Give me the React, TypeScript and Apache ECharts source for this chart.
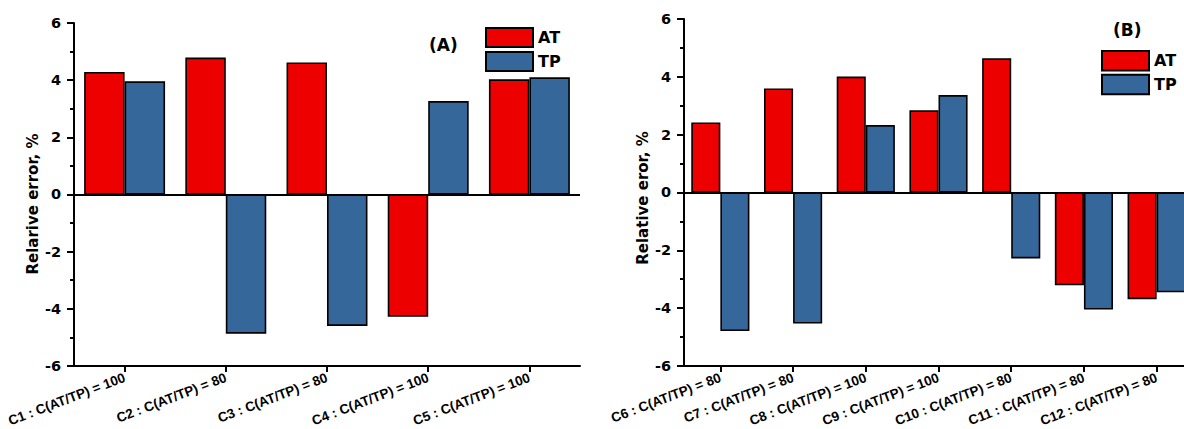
import React, { useEffect, useRef } from "react";
import * as echarts from "echarts";

const categoriesA = [
  "C1 : C(AT/TP) = 100",
  "C2 : C(AT/TP) = 80",
  "C3 : C(AT/TP) = 80",
  "C4 : C(AT/TP) = 100",
  "C5 : C(AT/TP) = 100",
];
const atA = [4.29, 4.79, 4.62, -4.28, 4.03];
const tpA = [3.96, -4.87, -4.6, 3.27, 4.1];

const categoriesB = [
  "C6 : C(AT/TP) = 80",
  "C7 : C(AT/TP) = 80",
  "C8 : C(AT/TP) = 100",
  "C9 : C(AT/TP) = 100",
  "C10 : C(AT/TP) = 80",
  "C11 : C(AT/TP) = 80",
  "C12 : C(AT/TP) = 80",
];
const atB = [2.42, 3.6, 4.01, 2.84, 4.64, -3.21, -3.69];
const tpB = [-4.79, -4.53, 2.33, 3.37, -2.28, -4.05, -3.45];

const yMin = -6;
const yMax = 6;
const yStep = 2;

const FONT = "DejaVu Sans";
const XFONT = "Liberation Sans";
const RED = "#ec0000";
const BLUE = "#35679a";

function xAxisFor(gridIndex: number, data: string[]) {
  return {
    type: "category",
    gridIndex,
    data,
    position: "bottom",
    axisLine: { onZero: false, lineStyle: { color: "#000", width: 2 } },
    axisTick: { show: true, alignWithLabel: true, length: 6, lineStyle: { color: "#000", width: 2 } },
    axisLabel: {
      interval: 0,
      rotate: 21,
      margin: 11,
      color: "#000",
      fontFamily: XFONT,
      fontWeight: "bold",
      fontSize: 13.5,
    },
    splitLine: { show: false },
  };
}

function yAxisFor(gridIndex: number, name: string, shift: number) {
  return {
    type: "value",
    gridIndex,
    min: yMin,
    max: yMax,
    interval: yStep,
    name,
    nameLocation: "middle",
    nameGap: 31,
    nameTextStyle: {
      color: "#000",
      fontFamily: FONT,
      fontWeight: "bold",
      fontSize: 15,
      padding: [0, shift, 0, 0],
    },
    axisLine: { show: true, lineStyle: { color: "#000", width: 2 } },
    axisTick: { show: true, length: 7, lineStyle: { color: "#000", width: 2 } },
    minorTick: { show: true, splitNumber: 2, length: 4, lineStyle: { color: "#000", width: 2 } },
    axisLabel: {
      margin: 13,
      color: "#000",
      fontFamily: FONT,
      fontWeight: "bold",
      fontSize: 14.5,
    },
    splitLine: { show: false },
  };
}

const zeroLine = {
  silent: true,
  symbol: "none",
  label: { show: false },
  lineStyle: { color: "#000", width: 2, type: "solid" },
  data: [{ yAxis: 0 }],
};

function barSeries(name: string, color: string, data: number[], idx: number, withZero: boolean) {
  return {
    type: "bar",
    name,
    xAxisIndex: idx,
    yAxisIndex: idx,
    data,
    barGap: "0%",
    barCategoryGap: "20%",
    itemStyle: { color, borderColor: "#000", borderWidth: 1.6 },
    ...(withZero ? { markLine: zeroLine } : {}),
  };
}

const legendBase = {
  data: ["AT", "TP"],
  orient: "vertical",
  icon: "rect",
  itemWidth: 47,
  padding: 0,
  selectedMode: false,
  textStyle: { color: "#000", fontFamily: FONT, fontWeight: "bold", fontSize: 16 },
};

export default function App() {
  const ref = useRef<HTMLDivElement>(null);
  useEffect(() => {
    if (!ref.current) return;
    const chart = echarts.init(ref.current, null, { renderer: "svg" });
    chart.setOption({
      animation: false,
      backgroundColor: "#fff",
      grid: [
        { left: 74, top: 23, width: 506, height: 344 },
        { left: 684, top: 19, width: 509, height: 347 },
      ],
      xAxis: [xAxisFor(0, categoriesA), xAxisFor(1, categoriesB)],
      yAxis: [yAxisFor(0, "Relarive error, %", 19), yAxisFor(1, "Relative eror, %", 11)],
      legend: [
        { ...legendBase, left: 485, top: 27, itemHeight: 19, itemGap: 3 },
        { ...legendBase, left: 1101, top: 50, itemHeight: 19.5, itemGap: 2.2 },
      ],
      graphic: [
        {
          type: "text",
          left: 429,
          top: 36,
          style: { text: "(A)", fill: "#000", font: `bold 17px "${FONT}"` },
        },
        {
          type: "text",
          left: 1113,
          top: 21,
          style: { text: "(B)", fill: "#000", font: `bold 17px "${FONT}"` },
        },
      ],
      series: [
        barSeries("AT", RED, atA, 0, true),
        barSeries("TP", BLUE, tpA, 0, false),
        barSeries("AT", RED, atB, 1, true),
        barSeries("TP", BLUE, tpB, 1, false),
      ],
    });
    return () => chart.dispose();
  }, []);
  return (
    <div
      ref={ref}
      style={{ position: "fixed", left: 0, top: 0, width: 1200, height: 429, background: "#fff" }}
    />
  );
}
